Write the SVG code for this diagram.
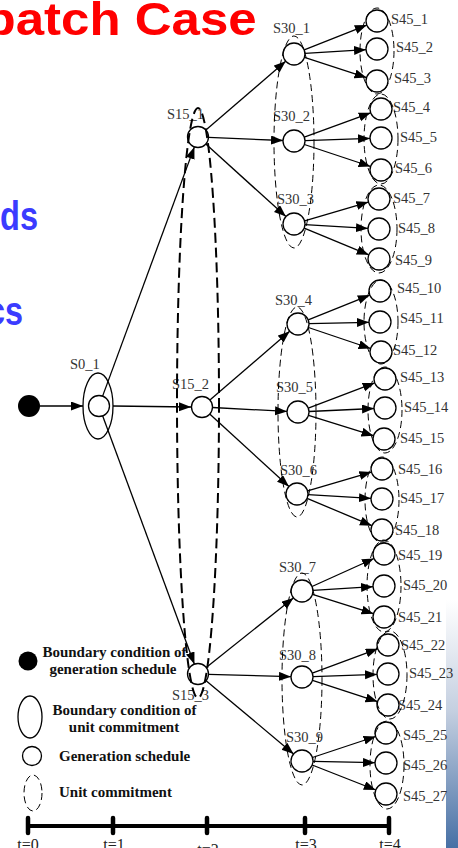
<svg xmlns="http://www.w3.org/2000/svg" width="458" height="848" viewBox="0 0 458 848">
<defs>
<marker id="ah" markerUnits="userSpaceOnUse" markerWidth="13" markerHeight="10" refX="12" refY="4.5" orient="auto"><path d="M0,0 L12,4.5 L0,9 z" fill="#000"/></marker>
<linearGradient id="bar" x1="0" y1="0" x2="0" y2="1"><stop offset="0" stop-color="#ffffff"/><stop offset="0.45" stop-color="#c4cfe0"/><stop offset="1" stop-color="#4770a5"/></linearGradient>
<style>
.n{fill:#fff;stroke:#000;stroke-width:1.3}
.lbl{font-family:"Liberation Serif",serif;font-size:14.5px;fill:#333}
.e{stroke:#000;stroke-width:1.3;fill:none;marker-end:url(#ah)}
.ue{fill:none;stroke:#000;stroke-width:1;stroke-dasharray:7 4}
.big{fill:none;stroke:#000;stroke-width:2;stroke-dasharray:10 5}
.leg{font-family:"Liberation Serif",serif;font-weight:bold;font-size:15px;fill:#111}
.ax{font-family:"Liberation Serif",serif;font-size:16px;fill:#222;text-anchor:middle}
.tk{stroke:#000;stroke-width:4.5;stroke-linecap:round}
</style>
</defs>
<rect x="446" y="600" width="12" height="248" fill="url(#bar)"/>
<text x="-15.4" y="35" textLength="272" lengthAdjust="spacingAndGlyphs" font-family="Liberation Sans, Arial, sans-serif" font-weight="bold" font-size="46" fill="#ff0000">patch Case</text>
<text x="0" y="230" textLength="38" lengthAdjust="spacingAndGlyphs" font-family="Liberation Sans, Arial, sans-serif" font-weight="bold" font-size="41" fill="#3b3bff">ds</text>
<text x="-13" y="325" textLength="36" lengthAdjust="spacingAndGlyphs" font-family="Liberation Sans, Arial, sans-serif" font-weight="bold" font-size="41" fill="#3b3bff">cs</text>

<g id="connectors">
<line class="e" x1="40" y1="406" x2="83" y2="406"/>
<line class="e" x1="102.6" y1="396.1" x2="194.4" y2="146.9"/>
<line class="e" x1="113" y1="406" x2="191" y2="407"/>
<line class="e" x1="102.6" y1="415.8" x2="194.4" y2="664.2"/>
<line class="e" x1="205.9" y1="130.1" x2="285.7" y2="61.2"/>
<line class="e" x1="208.5" y1="137.4" x2="283" y2="140.5"/>
<line class="e" x1="205.8" y1="144" x2="285.9" y2="216.6"/>
<line class="e" x1="209.9" y1="400.1" x2="289.7" y2="331.2"/>
<line class="e" x1="212.5" y1="407.5" x2="287" y2="411.4"/>
<line class="e" x1="209.7" y1="414.1" x2="288.9" y2="486.6"/>
<line class="e" x1="206.2" y1="667.5" x2="293.4" y2="597.9"/>
<line class="e" x1="208.5" y1="674.3" x2="291" y2="676.7"/>
<line class="e" x1="206.1" y1="680.7" x2="293.6" y2="753.9"/>
<line class="e" x1="304.2" y1="49.9" x2="366.8" y2="25.1"/>
<line class="e" x1="305" y1="53.3" x2="366" y2="49.7"/>
<line class="e" x1="304.5" y1="57.4" x2="366.5" y2="77.6"/>
<line class="e" x1="304.3" y1="137.2" x2="370.7" y2="112.8"/>
<line class="e" x1="305" y1="140.6" x2="370" y2="138.4"/>
<line class="e" x1="304.4" y1="144.5" x2="370.6" y2="166.5"/>
<line class="e" x1="304.6" y1="220.9" x2="368.4" y2="202.1"/>
<line class="e" x1="305" y1="224.6" x2="368" y2="228.4"/>
<line class="e" x1="304.2" y1="228.2" x2="368.8" y2="254.8"/>
<line class="e" x1="308.2" y1="319.9" x2="369.8" y2="295.1"/>
<line class="e" x1="309" y1="323.7" x2="369" y2="322.3"/>
<line class="e" x1="308.4" y1="327.5" x2="370.6" y2="348.5"/>
<line class="e" x1="308.3" y1="408.1" x2="374.7" y2="382.9"/>
<line class="e" x1="309" y1="411.5" x2="374" y2="408.5"/>
<line class="e" x1="308.5" y1="415.3" x2="373.5" y2="435.7"/>
<line class="e" x1="307.6" y1="490.9" x2="371.4" y2="472.1"/>
<line class="e" x1="308" y1="494.6" x2="371" y2="498.4"/>
<line class="e" x1="307.1" y1="498.3" x2="371.9" y2="525.7"/>
<line class="e" x1="312" y1="586.5" x2="374" y2="558.5"/>
<line class="e" x1="313" y1="590.3" x2="373" y2="586.7"/>
<line class="e" x1="312.5" y1="594.3" x2="373.5" y2="613.7"/>
<line class="e" x1="312.3" y1="673.2" x2="377.7" y2="648.8"/>
<line class="e" x1="313" y1="676.6" x2="377" y2="674.4"/>
<line class="e" x1="312.5" y1="680.4" x2="377.5" y2="701.6"/>
<line class="e" x1="312.4" y1="757.5" x2="375.6" y2="736.5"/>
<line class="e" x1="313" y1="761.3" x2="375" y2="762.7"/>
<line class="e" x1="312.2" y1="765" x2="375.8" y2="790"/>
</g>

<g id="start"><circle cx="29" cy="406" r="11" fill="#000"/></g>
<g id="S0_1"><ellipse cx="98" cy="406" rx="15" ry="33" fill="none" stroke="#000" stroke-width="1.3"/><circle class="n" cx="99" cy="406" r="10.5"/><text class="lbl" x="70" y="369">S0_1</text></g>

<g id="S15_1"><circle class="n" cx="198" cy="137" r="10.5"/><text class="lbl" x="167" y="119">S15_1</text></g>
<g id="S15_2"><circle class="n" cx="202" cy="407" r="10.5"/><text class="lbl" x="172" y="389">S15_2</text></g>
<g id="S15_3"><circle class="n" cx="198" cy="674" r="10.5"/><text class="lbl" x="172" y="700">S15_3</text></g>

<g id="S30_1"><circle class="n" cx="294" cy="54" r="11"/><text class="lbl" x="273" y="33">S30_1</text></g>
<g id="S30_2"><circle class="n" cx="294" cy="141" r="11"/><text class="lbl" x="273" y="121">S30_2</text></g>
<g id="S30_3"><circle class="n" cx="294" cy="224" r="11"/><text class="lbl" x="277" y="204">S30_3</text></g>
<g id="S30_4"><circle class="n" cx="298" cy="324" r="11"/><text class="lbl" x="275" y="305">S30_4</text></g>
<g id="S30_5"><circle class="n" cx="298" cy="412" r="11"/><text class="lbl" x="276" y="392">S30_5</text></g>
<g id="S30_6"><circle class="n" cx="297" cy="494" r="11"/><text class="lbl" x="280" y="475">S30_6</text></g>
<g id="S30_7"><circle class="n" cx="302" cy="591" r="11"/><text class="lbl" x="279" y="572">S30_7</text></g>
<g id="S30_8"><circle class="n" cx="302" cy="677" r="11"/><text class="lbl" x="279" y="660">S30_8</text></g>
<g id="S30_9"><circle class="n" cx="302" cy="761" r="11"/><text class="lbl" x="286" y="742">S30_9</text></g>

<g id="S45_1"><circle class="n" cx="377" cy="21" r="11"/><text class="lbl" x="391" y="24">S45_1</text></g>
<g id="S45_2"><circle class="n" cx="377" cy="49" r="11"/><text class="lbl" x="396" y="52">S45_2</text></g>
<g id="S45_3"><circle class="n" cx="377" cy="81" r="11"/><text class="lbl" x="394" y="83">S45_3</text></g>
<g id="S45_4"><circle class="n" cx="381" cy="109" r="11"/><text class="lbl" x="393" y="112">S45_4</text></g>
<g id="S45_5"><circle class="n" cx="381" cy="138" r="11"/><text class="lbl" x="400" y="142">S45_5</text></g>
<g id="S45_6"><circle class="n" cx="381" cy="170" r="11"/><text class="lbl" x="395" y="173">S45_6</text></g>
<g id="S45_7"><circle class="n" cx="379" cy="199" r="11"/><text class="lbl" x="393" y="203">S45_7</text></g>
<g id="S45_8"><circle class="n" cx="379" cy="229" r="11"/><text class="lbl" x="398" y="233">S45_8</text></g>
<g id="S45_9"><circle class="n" cx="379" cy="259" r="11"/><text class="lbl" x="395" y="265">S45_9</text></g>
<g id="S45_10"><circle class="n" cx="380" cy="291" r="11"/><text class="lbl" x="397" y="293">S45_10</text></g>
<g id="S45_11"><circle class="n" cx="380" cy="322" r="11"/><text class="lbl" x="400" y="323">S45_11</text></g>
<g id="S45_12"><circle class="n" cx="381" cy="352" r="11"/><text class="lbl" x="393" y="355">S45_12</text></g>
<g id="S45_13"><circle class="n" cx="385" cy="379" r="11"/><text class="lbl" x="400" y="382">S45_13</text></g>
<g id="S45_14"><circle class="n" cx="385" cy="408" r="11"/><text class="lbl" x="404" y="412">S45_14</text></g>
<g id="S45_15"><circle class="n" cx="384" cy="439" r="11"/><text class="lbl" x="400" y="443">S45_15</text></g>
<g id="S45_16"><circle class="n" cx="382" cy="469" r="11"/><text class="lbl" x="398" y="474">S45_16</text></g>
<g id="S45_17"><circle class="n" cx="382" cy="499" r="11"/><text class="lbl" x="400" y="503">S45_17</text></g>
<g id="S45_18"><circle class="n" cx="382" cy="530" r="11"/><text class="lbl" x="395" y="535">S45_18</text></g>
<g id="S45_19"><circle class="n" cx="384" cy="554" r="11"/><text class="lbl" x="398" y="560">S45_19</text></g>
<g id="S45_20"><circle class="n" cx="384" cy="586" r="11"/><text class="lbl" x="403" y="590">S45_20</text></g>
<g id="S45_21"><circle class="n" cx="384" cy="617" r="11"/><text class="lbl" x="398" y="622">S45_21</text></g>
<g id="S45_22"><circle class="n" cx="388" cy="645" r="11"/><text class="lbl" x="401" y="650">S45_22</text></g>
<g id="S45_23"><circle class="n" cx="388" cy="674" r="11"/><text class="lbl" x="409" y="678">S45_23</text></g>
<g id="S45_24"><circle class="n" cx="388" cy="705" r="11"/><text class="lbl" x="398" y="710">S45_24</text></g>
<g id="S45_25"><circle class="n" cx="386" cy="733" r="11"/><text class="lbl" x="403" y="740">S45_25</text></g>
<g id="S45_26"><circle class="n" cx="386" cy="763" r="11"/><text class="lbl" x="403" y="770">S45_26</text></g>
<g id="S45_27"><circle class="n" cx="386" cy="794" r="11"/><text class="lbl" x="403" y="801">S45_27</text></g>

<g id="uc_t2"><ellipse class="big" cx="198" cy="403" rx="21" ry="295"/></g>
<g id="uc_t3">
<ellipse class="ue" cx="294" cy="142" rx="20" ry="106"/>
<ellipse class="ue" cx="297" cy="412" rx="19" ry="105"/>
<ellipse class="ue" cx="302" cy="679" rx="20" ry="106"/>
</g>
<g id="uc_t4">
<ellipse class="ue" cx="377" cy="51" rx="17" ry="43"/>
<ellipse class="ue" cx="381" cy="139" rx="17" ry="45"/>
<ellipse class="ue" cx="379" cy="229" rx="18" ry="44"/>
<ellipse class="ue" cx="381" cy="322" rx="17" ry="42"/>
<ellipse class="ue" cx="385" cy="410" rx="17" ry="43"/>
<ellipse class="ue" cx="382" cy="500" rx="17" ry="43"/>
<ellipse class="ue" cx="384" cy="586" rx="17" ry="46"/>
<ellipse class="ue" cx="390" cy="675" rx="17" ry="44"/>
<ellipse class="ue" cx="387" cy="765" rx="17" ry="44"/>
</g>

<g id="legend">
<circle cx="28" cy="661" r="9.5" fill="#000"/>
<text class="leg" x="114.5" y="657" text-anchor="middle">Boundary condition of</text>
<text class="leg" x="113" y="674" text-anchor="middle">generation schedule</text>
<ellipse cx="30" cy="717" rx="12" ry="21" fill="none" stroke="#000" stroke-width="1.3"/>
<text class="leg" x="124.5" y="715" text-anchor="middle">Boundary condition of</text>
<text class="leg" x="124" y="732" text-anchor="middle">unit commitment</text>
<circle cx="32" cy="756" r="9.5" fill="#fff" stroke="#000" stroke-width="1.3"/>
<text class="leg" x="59" y="761">Generation schedule</text>
<ellipse class="ue" cx="33" cy="793" rx="9" ry="18"/>
<text class="leg" x="59" y="797">Unit commitment</text>
</g>

<g id="timeline">
<line x1="28" y1="826" x2="389" y2="826" stroke="#000" stroke-width="4"/>
<line class="tk" x1="28" y1="818" x2="28" y2="833"/>
<line class="tk" x1="113" y1="818" x2="113" y2="833"/>
<line class="tk" x1="207" y1="818" x2="207" y2="833"/>
<line class="tk" x1="305" y1="818" x2="305" y2="833"/>
<line class="tk" x1="389" y1="818" x2="389" y2="833"/>
<text class="ax" x="28" y="850">t=0</text>
<text class="ax" x="114" y="850">t=1</text>
<text class="ax" x="208" y="855">t=2</text>
<text class="ax" x="306" y="850">t=3</text>
<text class="ax" x="390" y="850">t=4</text>
</g>
</svg>
